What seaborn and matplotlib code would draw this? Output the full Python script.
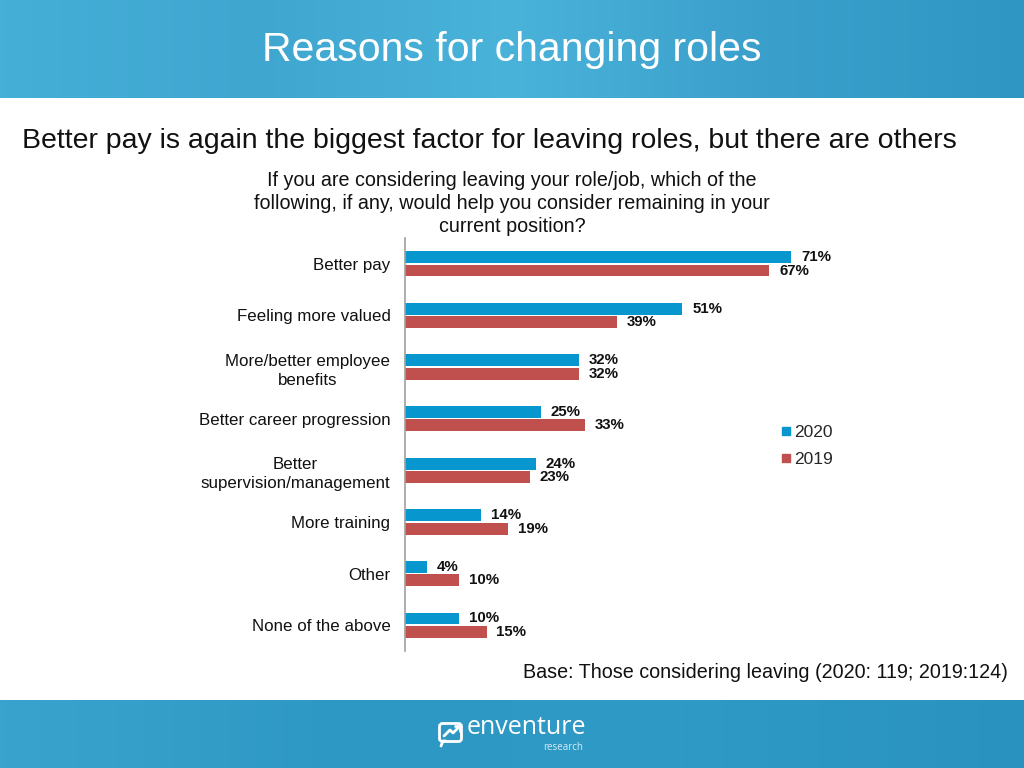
import numpy as np
import pandas as pd
import matplotlib
matplotlib.use("Agg")
import matplotlib.pyplot as plt
import seaborn as sns
from matplotlib.patches import FancyBboxPatch
from matplotlib.lines import Line2D
from matplotlib.colors import LinearSegmentedColormap

categories = ["Better pay", "Feeling more valued", "More/better employee\nbenefits",
              "Better career progression", "Better\nsupervision/management",
              "More training", "Other", "None of the above"]
values_2020 = [71, 51, 32, 25, 24, 14, 4, 10]
values_2019 = [67, 39, 32, 33, 23, 19, 10, 15]
series = ["2020", "2019"]
colors = {"2020": "#0797CE", "2019": "#C0504D"}

df = pd.DataFrame({
    "category": categories * 2,
    "value": values_2020 + values_2019,
    "year": ["2020"] * len(categories) + ["2019"] * len(categories),
})

sns.set_style("white")
plt.rcParams["font.family"] = ["Liberation Sans", "DejaVu Sans"]

fig = plt.figure(figsize=(10.24, 7.68), dpi=100)

grad = np.linspace(0, 1, 256)
g = np.vstack([grad, grad])

# header band
hax = fig.add_axes([0, 1 - 98 / 768, 1, 98 / 768])
cmap_h = LinearSegmentedColormap.from_list("h", ["#45AFD8", "#3FA6D0", "#4AB3DA", "#3A9FCB", "#2F96C3"])
hax.imshow(g, aspect="auto", cmap=cmap_h, extent=[0, 1, 0, 1])
hax.set_axis_off()
fig.text(0.5, 1 - 50 / 768, "Reasons for changing roles", color="white", fontsize=29.5,
         ha="center", va="center")

# footer band
fax = fig.add_axes([0, 0, 1, 68 / 768])
cmap_f = LinearSegmentedColormap.from_list("f", ["#3AA3CD", "#2E98C4", "#2F9AC6", "#2A92BF"])
fax.set_xlim(0, 1024); fax.set_ylim(0, 68)
fax.imshow(g, aspect="auto", cmap=cmap_f, extent=[0, 1024, 0, 68])
fax.set_axis_off()
fax.add_patch(FancyBboxPatch((441, 28), 19, 15, boxstyle="round,pad=1.5,rounding_size=3",
                             fill=False, ec="white", lw=2))
fax.plot([441, 443, 446], [22, 27, 27], color="white", lw=2)
fax.plot([444, 450, 453, 460], [32, 38, 35, 42], color="white", lw=2)
fax.plot([455, 460, 460], [42, 42, 37], color="white", lw=2)
fax.text(467, 41, "enventure", color="white", fontsize=18, va="center", ha="left",
         family=["Open Sans", "DejaVu Sans"])
fax.text(583, 20, "research", color="#D8EEF7", fontsize=7, va="center", ha="right",
         family=["Open Sans", "DejaVu Sans"])

# subtitle and question
fig.text(22 / 1024, 1 - 141 / 768, "Better pay is again the biggest factor for leaving roles, but there are others",
         fontsize=20.5, ha="left", va="center", color="#111111")
fig.text(512 / 1024, 1 - 203.5 / 768,
         "If you are considering leaving your role/job, which of the\nfollowing, if any, would help you consider remaining in your\ncurrent position?",
         fontsize=14.2, ha="center", va="center", linespacing=1.24, color="#111111")

# main chart
ax = fig.add_axes([405 / 1024, 1 - 651 / 768, 455 / 1024, 413 / 768])
sns.barplot(data=df, y="category", x="value", hue="year", hue_order=series,
            palette=colors, orient="h", width=0.52, gap=0.12, ax=ax,
            legend=False, saturation=1, linewidth=0)
ax.set_xlim(0, 455 / 5.44)
ax.set_xlabel("")
ax.set_ylabel("")
ax.set_xticks([])
for s in ["top", "right", "bottom"]:
    ax.spines[s].set_visible(False)
ax.spines["left"].set_color("#A0A0A0")
ax.spines["left"].set_linewidth(1.2)
ax.tick_params(axis="y", length=0, pad=10.5, labelsize=12.2)
for lbl in ax.get_yticklabels():
    lbl.set_multialignment("center")
    lbl.set_linespacing(1.35)
    lbl.set_color("#111111")
for cont in ax.containers:
    ax.bar_label(cont, fmt="%d%%", padding=7, fontsize=10.8, fontweight="bold", color="#111111")
ax.set_facecolor("none")

handles = [Line2D([0], [0], marker="s", linestyle="", markersize=6,
                  markerfacecolor=colors[s], markeredgecolor=colors[s]) for s in series]
fig.legend(handles, series, loc="upper left", bbox_to_anchor=(765 / 1024, 1 - 409 / 768),
           frameon=False, fontsize=12.5, handlelength=0.6, handletextpad=0.15, labelspacing=0.68)

fig.text(1008 / 1024, 1 - 673 / 768, "Base: Those considering leaving (2020: 119; 2019:124)",
         fontsize=14.2, ha="right", va="center", color="#111111")

fig.savefig("out.png", dpi=100)
